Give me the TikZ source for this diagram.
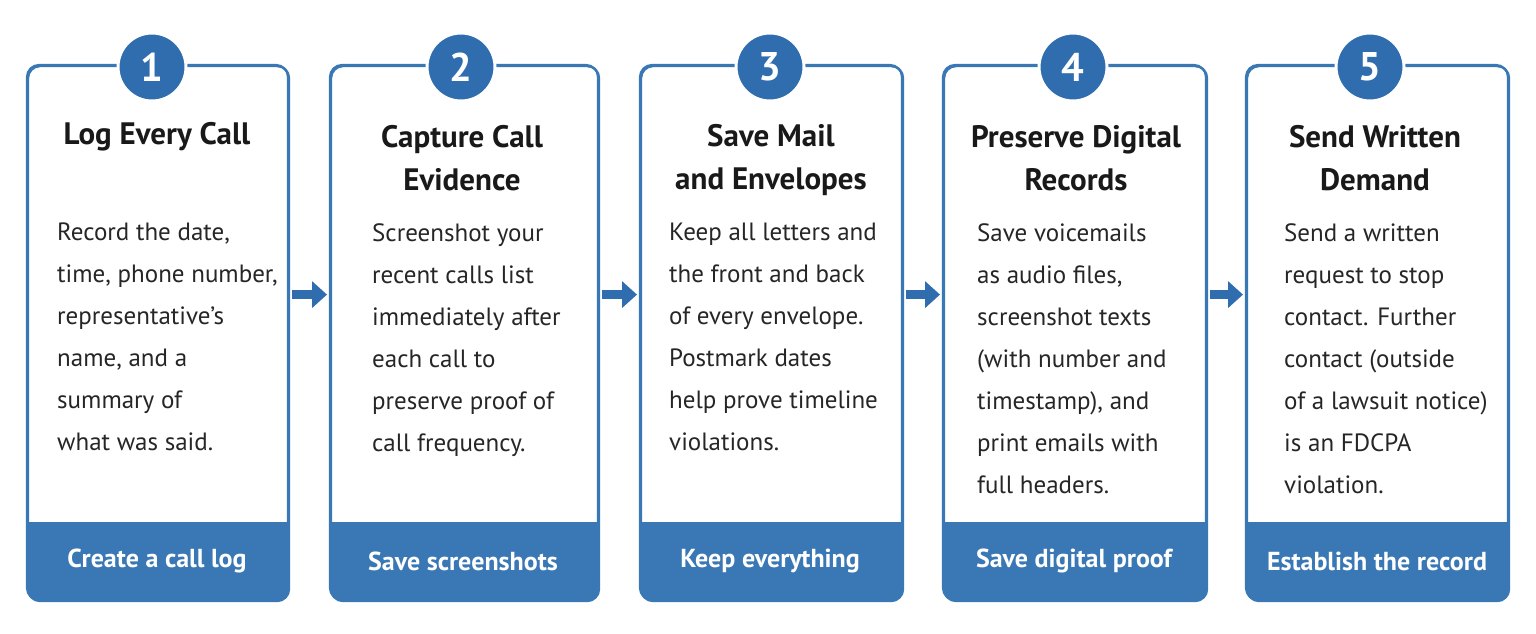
\documentclass[tikz,border=0pt]{standalone}
\usepackage{fontspec}
\setmainfont{PT Sans}
\usetikzlibrary{arrows.meta}
\definecolor{bl}{HTML}{2F6DAE}
\definecolor{bd}{HTML}{3A78B5}
\tikzset{
 card/.style={draw=bd,line width=2.2pt,rounded corners=12pt,fill=white,minimum width=261pt,minimum height=535pt,inner sep=0},
 num/.style={circle,fill=bl,draw=white,line width=3pt,minimum size=68pt,text=white,font=\fontsize{40}{40}\selectfont\bfseries},
 ttl/.style={align=center,font=\fontsize{31}{43}\selectfont\bfseries,text=black!90},
 body/.style={align=left,anchor=north west,inner sep=0,font=\fontsize{25}{42}\selectfont,text=black!85},
 band/.style={text=white,font=\fontsize{26}{26}\selectfont\bfseries},
 arr/.style={draw=bl,line width=9pt,-{Triangle[length=15pt,width=26pt]}}
}
\begin{document}
\begin{tikzpicture}[x=1pt,y=-1pt]
\useasboundingbox[fill=white] (0,0) rectangle (1536,633);
\foreach \i/\x/\w in {1/27/261,2/330/268,3/640/262,4/943/263,5/1246/262}{
  \node[card,minimum width=\w pt,anchor=north west] (c\i) at (\x,65) {};
  \begin{scope}
    \clip[rounded corners=12pt] (\x,65) rectangle (\x+\w,600);
    \fill[bd] (\x,522) rectangle (\x+\w,600);
  \end{scope}
  \draw[bd,line width=2.2pt,rounded corners=12pt] (\x,65) rectangle (\x+\w,600);
}
\foreach \i/\x in {1/152,2/461,3/770,4/1073,5/1370}{
  \node[num] (n\i) at (\x,67) {\i};
}
\node[ttl] (t1) at (157,137) {Log Every Call};
\node[ttl] (t2) at (462,158) {Capture Call\\Evidence};
\node[ttl] (t3) at (771,160) {Save Mail\\and Envelopes};
\node[ttl] (t4) at (1076,158) {Preserve Digital\\Records};
\node[ttl] (t5) at (1375,158) {Send Written\\Demand};
\node[body] (b1) at (57,223) {Record the date,\\time, phone number,\\representative’s\\name, and a\\summary of\\what was said.};
\node[body] (b2) at (372,223) {Screenshot your\\recent calls list\\immediately after\\each call to\\preserve proof of\\call frequency.};
\node[body] (b3) at (669,223) {Keep all letters and\\the front and back\\of every envelope.\\Postmark dates\\help prove timeline\\violations.};
\node[body] (b4) at (977,223) {Save voicemails\\as audio files,\\screenshot texts\\(with number and\\timestamp), and\\print emails with\\full headers.};
\node[body] (b5) at (1284,223) {Send a written\\request to stop\\contact. Further\\contact (outside\\of a lawsuit notice)\\is an FDCPA\\violation.};
\node[band] (l1) at (157,561) {Create a call log};
\node[band] (l2) at (463,561) {Save screenshots};
\node[band] (l3) at (770,561) {Keep everything};
\node[band] (l4) at (1074,561) {Save digital proof};
\node[band] (l5) at (1377,561) {Establish the record};
\foreach \a/\b in {1/2,2/3,3/4,4/5}{
  \draw[arr] ([xshift=2pt,yshift=39pt]c\a.east) -- ([xshift=-3pt,yshift=39pt]c\b.west);
}
\end{tikzpicture}
\end{document}
